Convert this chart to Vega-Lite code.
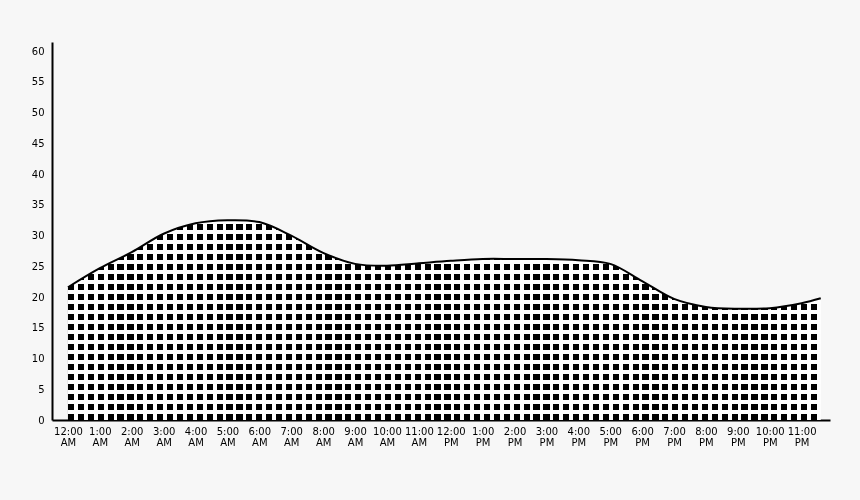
{
  "$schema": "https://vega.github.io/schema/vega-lite/v6.json",
  "width": 778,
  "height": 378,
  "autosize": "none",
  "padding": {"left": 52, "top": 42, "right": 30, "bottom": 80},
  "background": "#f7f7f7",
  "data": {
    "values": [
      {"hour": 0, "value": 21.6},
      {"hour": 1, "value": 24.7},
      {"hour": 2, "value": 27.3},
      {"hour": 3, "value": 30.3},
      {"hour": 4, "value": 32.0},
      {"hour": 5, "value": 32.5},
      {"hour": 6, "value": 32.2},
      {"hour": 7, "value": 30.0},
      {"hour": 8, "value": 27.2},
      {"hour": 9, "value": 25.4},
      {"hour": 10, "value": 25.1},
      {"hour": 11, "value": 25.5},
      {"hour": 12, "value": 25.9},
      {"hour": 13, "value": 26.2},
      {"hour": 14, "value": 26.2},
      {"hour": 15, "value": 26.2},
      {"hour": 16, "value": 26.0},
      {"hour": 17, "value": 25.4},
      {"hour": 18, "value": 22.6},
      {"hour": 19, "value": 19.7},
      {"hour": 20, "value": 18.4},
      {"hour": 21, "value": 18.1},
      {"hour": 22, "value": 18.2},
      {"hour": 23, "value": 19.0},
      {"hour": 23.6, "value": 19.8}
    ]
  },
  "encoding": {
    "x": {
      "field": "hour",
      "type": "quantitative",
      "title": null,
      "scale": {"domain": [-0.5, 23.89], "nice": false, "zero": false},
      "axis": {
        "values": [0, 1, 2, 3, 4, 5, 6, 7, 8, 9, 10, 11, 12, 13, 14, 15, 16, 17, 18, 19, 20, 21, 22, 23],
        "labelExpr": "[(datum.value % 12 == 0 ? 12 : datum.value % 12) + ':00', datum.value < 12 ? 'AM' : 'PM']",
        "labelLineHeight": 11,
        "labelPadding": 6,
        "labelFlush": false,
        "labelOverlap": false
      }
    },
    "y": {
      "field": "value",
      "type": "quantitative",
      "title": null,
      "scale": {"domain": [0, 61.5], "nice": false},
      "axis": {
        "values": [0, 5, 10, 15, 20, 25, 30, 35, 40, 45, 50, 55, 60],
        "labelPadding": 8,
        "labelFlush": false
      }
    }
  },
  "layer": [
    {
      "mark": {
        "type": "area",
        "interpolate": "catmull-rom",
        "color": {
          "gradient": "linear",
          "x1": 0, "y1": 0, "x2": 1, "y2": 0,
          "stops": [
            {"offset": 0, "color": "#000"}, {"offset": 0.0082, "color": "#000"}, {"offset": 0.0082, "color": "#fff"}, {"offset": 0.0132, "color": "#fff"},
            {"offset": 0.0132, "color": "#000"}, {"offset": 0.0214, "color": "#000"}, {"offset": 0.0214, "color": "#fff"}, {"offset": 0.0263, "color": "#fff"},
            {"offset": 0.0263, "color": "#000"}, {"offset": 0.0345, "color": "#000"}, {"offset": 0.0345, "color": "#fff"}, {"offset": 0.0395, "color": "#fff"},
            {"offset": 0.0395, "color": "#000"}, {"offset": 0.0477, "color": "#000"}, {"offset": 0.0477, "color": "#fff"}, {"offset": 0.0526, "color": "#fff"},
            {"offset": 0.0526, "color": "#000"}, {"offset": 0.0608, "color": "#000"}, {"offset": 0.0608, "color": "#fff"}, {"offset": 0.0658, "color": "#fff"},
            {"offset": 0.0658, "color": "#000"}, {"offset": 0.0740, "color": "#000"}, {"offset": 0.0740, "color": "#fff"}, {"offset": 0.0789, "color": "#fff"},
            {"offset": 0.0789, "color": "#000"}, {"offset": 0.0871, "color": "#000"}, {"offset": 0.0871, "color": "#fff"}, {"offset": 0.0921, "color": "#fff"},
            {"offset": 0.0921, "color": "#000"}, {"offset": 0.1003, "color": "#000"}, {"offset": 0.1003, "color": "#fff"}, {"offset": 0.1053, "color": "#fff"},
            {"offset": 0.1053, "color": "#000"}, {"offset": 0.1135, "color": "#000"}, {"offset": 0.1135, "color": "#fff"}, {"offset": 0.1184, "color": "#fff"},
            {"offset": 0.1184, "color": "#000"}, {"offset": 0.1266, "color": "#000"}, {"offset": 0.1266, "color": "#fff"}, {"offset": 0.1316, "color": "#fff"},
            {"offset": 0.1316, "color": "#000"}, {"offset": 0.1398, "color": "#000"}, {"offset": 0.1398, "color": "#fff"}, {"offset": 0.1447, "color": "#fff"},
            {"offset": 0.1447, "color": "#000"}, {"offset": 0.1529, "color": "#000"}, {"offset": 0.1529, "color": "#fff"}, {"offset": 0.1579, "color": "#fff"},
            {"offset": 0.1579, "color": "#000"}, {"offset": 0.1661, "color": "#000"}, {"offset": 0.1661, "color": "#fff"}, {"offset": 0.1711, "color": "#fff"},
            {"offset": 0.1711, "color": "#000"}, {"offset": 0.1793, "color": "#000"}, {"offset": 0.1793, "color": "#fff"}, {"offset": 0.1842, "color": "#fff"},
            {"offset": 0.1842, "color": "#000"}, {"offset": 0.1924, "color": "#000"}, {"offset": 0.1924, "color": "#fff"}, {"offset": 0.1974, "color": "#fff"},
            {"offset": 0.1974, "color": "#000"}, {"offset": 0.2056, "color": "#000"}, {"offset": 0.2056, "color": "#fff"}, {"offset": 0.2105, "color": "#fff"},
            {"offset": 0.2105, "color": "#000"}, {"offset": 0.2187, "color": "#000"}, {"offset": 0.2187, "color": "#fff"}, {"offset": 0.2237, "color": "#fff"},
            {"offset": 0.2237, "color": "#000"}, {"offset": 0.2319, "color": "#000"}, {"offset": 0.2319, "color": "#fff"}, {"offset": 0.2368, "color": "#fff"},
            {"offset": 0.2368, "color": "#000"}, {"offset": 0.2450, "color": "#000"}, {"offset": 0.2450, "color": "#fff"}, {"offset": 0.2500, "color": "#fff"},
            {"offset": 0.2500, "color": "#000"}, {"offset": 0.2582, "color": "#000"}, {"offset": 0.2582, "color": "#fff"}, {"offset": 0.2632, "color": "#fff"},
            {"offset": 0.2632, "color": "#000"}, {"offset": 0.2714, "color": "#000"}, {"offset": 0.2714, "color": "#fff"}, {"offset": 0.2763, "color": "#fff"},
            {"offset": 0.2763, "color": "#000"}, {"offset": 0.2845, "color": "#000"}, {"offset": 0.2845, "color": "#fff"}, {"offset": 0.2895, "color": "#fff"},
            {"offset": 0.2895, "color": "#000"}, {"offset": 0.2977, "color": "#000"}, {"offset": 0.2977, "color": "#fff"}, {"offset": 0.3026, "color": "#fff"},
            {"offset": 0.3026, "color": "#000"}, {"offset": 0.3108, "color": "#000"}, {"offset": 0.3108, "color": "#fff"}, {"offset": 0.3158, "color": "#fff"},
            {"offset": 0.3158, "color": "#000"}, {"offset": 0.3240, "color": "#000"}, {"offset": 0.3240, "color": "#fff"}, {"offset": 0.3289, "color": "#fff"},
            {"offset": 0.3289, "color": "#000"}, {"offset": 0.3371, "color": "#000"}, {"offset": 0.3371, "color": "#fff"}, {"offset": 0.3421, "color": "#fff"},
            {"offset": 0.3421, "color": "#000"}, {"offset": 0.3503, "color": "#000"}, {"offset": 0.3503, "color": "#fff"}, {"offset": 0.3553, "color": "#fff"},
            {"offset": 0.3553, "color": "#000"}, {"offset": 0.3635, "color": "#000"}, {"offset": 0.3635, "color": "#fff"}, {"offset": 0.3684, "color": "#fff"},
            {"offset": 0.3684, "color": "#000"}, {"offset": 0.3766, "color": "#000"}, {"offset": 0.3766, "color": "#fff"}, {"offset": 0.3816, "color": "#fff"},
            {"offset": 0.3816, "color": "#000"}, {"offset": 0.3898, "color": "#000"}, {"offset": 0.3898, "color": "#fff"}, {"offset": 0.3947, "color": "#fff"},
            {"offset": 0.3947, "color": "#000"}, {"offset": 0.4029, "color": "#000"}, {"offset": 0.4029, "color": "#fff"}, {"offset": 0.4079, "color": "#fff"},
            {"offset": 0.4079, "color": "#000"}, {"offset": 0.4161, "color": "#000"}, {"offset": 0.4161, "color": "#fff"}, {"offset": 0.4211, "color": "#fff"},
            {"offset": 0.4211, "color": "#000"}, {"offset": 0.4293, "color": "#000"}, {"offset": 0.4293, "color": "#fff"}, {"offset": 0.4342, "color": "#fff"},
            {"offset": 0.4342, "color": "#000"}, {"offset": 0.4424, "color": "#000"}, {"offset": 0.4424, "color": "#fff"}, {"offset": 0.4474, "color": "#fff"},
            {"offset": 0.4474, "color": "#000"}, {"offset": 0.4556, "color": "#000"}, {"offset": 0.4556, "color": "#fff"}, {"offset": 0.4605, "color": "#fff"},
            {"offset": 0.4605, "color": "#000"}, {"offset": 0.4687, "color": "#000"}, {"offset": 0.4687, "color": "#fff"}, {"offset": 0.4737, "color": "#fff"},
            {"offset": 0.4737, "color": "#000"}, {"offset": 0.4819, "color": "#000"}, {"offset": 0.4819, "color": "#fff"}, {"offset": 0.4868, "color": "#fff"},
            {"offset": 0.4868, "color": "#000"}, {"offset": 0.4950, "color": "#000"}, {"offset": 0.4950, "color": "#fff"}, {"offset": 0.5000, "color": "#fff"},
            {"offset": 0.5000, "color": "#000"}, {"offset": 0.5082, "color": "#000"}, {"offset": 0.5082, "color": "#fff"}, {"offset": 0.5132, "color": "#fff"},
            {"offset": 0.5132, "color": "#000"}, {"offset": 0.5214, "color": "#000"}, {"offset": 0.5214, "color": "#fff"}, {"offset": 0.5263, "color": "#fff"},
            {"offset": 0.5263, "color": "#000"}, {"offset": 0.5345, "color": "#000"}, {"offset": 0.5345, "color": "#fff"}, {"offset": 0.5395, "color": "#fff"},
            {"offset": 0.5395, "color": "#000"}, {"offset": 0.5477, "color": "#000"}, {"offset": 0.5477, "color": "#fff"}, {"offset": 0.5526, "color": "#fff"},
            {"offset": 0.5526, "color": "#000"}, {"offset": 0.5608, "color": "#000"}, {"offset": 0.5608, "color": "#fff"}, {"offset": 0.5658, "color": "#fff"},
            {"offset": 0.5658, "color": "#000"}, {"offset": 0.5740, "color": "#000"}, {"offset": 0.5740, "color": "#fff"}, {"offset": 0.5789, "color": "#fff"},
            {"offset": 0.5789, "color": "#000"}, {"offset": 0.5871, "color": "#000"}, {"offset": 0.5871, "color": "#fff"}, {"offset": 0.5921, "color": "#fff"},
            {"offset": 0.5921, "color": "#000"}, {"offset": 0.6003, "color": "#000"}, {"offset": 0.6003, "color": "#fff"}, {"offset": 0.6053, "color": "#fff"},
            {"offset": 0.6053, "color": "#000"}, {"offset": 0.6135, "color": "#000"}, {"offset": 0.6135, "color": "#fff"}, {"offset": 0.6184, "color": "#fff"},
            {"offset": 0.6184, "color": "#000"}, {"offset": 0.6266, "color": "#000"}, {"offset": 0.6266, "color": "#fff"}, {"offset": 0.6316, "color": "#fff"},
            {"offset": 0.6316, "color": "#000"}, {"offset": 0.6398, "color": "#000"}, {"offset": 0.6398, "color": "#fff"}, {"offset": 0.6447, "color": "#fff"},
            {"offset": 0.6447, "color": "#000"}, {"offset": 0.6529, "color": "#000"}, {"offset": 0.6529, "color": "#fff"}, {"offset": 0.6579, "color": "#fff"},
            {"offset": 0.6579, "color": "#000"}, {"offset": 0.6661, "color": "#000"}, {"offset": 0.6661, "color": "#fff"}, {"offset": 0.6711, "color": "#fff"},
            {"offset": 0.6711, "color": "#000"}, {"offset": 0.6793, "color": "#000"}, {"offset": 0.6793, "color": "#fff"}, {"offset": 0.6842, "color": "#fff"},
            {"offset": 0.6842, "color": "#000"}, {"offset": 0.6924, "color": "#000"}, {"offset": 0.6924, "color": "#fff"}, {"offset": 0.6974, "color": "#fff"},
            {"offset": 0.6974, "color": "#000"}, {"offset": 0.7056, "color": "#000"}, {"offset": 0.7056, "color": "#fff"}, {"offset": 0.7105, "color": "#fff"},
            {"offset": 0.7105, "color": "#000"}, {"offset": 0.7187, "color": "#000"}, {"offset": 0.7187, "color": "#fff"}, {"offset": 0.7237, "color": "#fff"},
            {"offset": 0.7237, "color": "#000"}, {"offset": 0.7319, "color": "#000"}, {"offset": 0.7319, "color": "#fff"}, {"offset": 0.7368, "color": "#fff"},
            {"offset": 0.7368, "color": "#000"}, {"offset": 0.7450, "color": "#000"}, {"offset": 0.7450, "color": "#fff"}, {"offset": 0.7500, "color": "#fff"},
            {"offset": 0.7500, "color": "#000"}, {"offset": 0.7582, "color": "#000"}, {"offset": 0.7582, "color": "#fff"}, {"offset": 0.7632, "color": "#fff"},
            {"offset": 0.7632, "color": "#000"}, {"offset": 0.7714, "color": "#000"}, {"offset": 0.7714, "color": "#fff"}, {"offset": 0.7763, "color": "#fff"},
            {"offset": 0.7763, "color": "#000"}, {"offset": 0.7845, "color": "#000"}, {"offset": 0.7845, "color": "#fff"}, {"offset": 0.7895, "color": "#fff"},
            {"offset": 0.7895, "color": "#000"}, {"offset": 0.7977, "color": "#000"}, {"offset": 0.7977, "color": "#fff"}, {"offset": 0.8026, "color": "#fff"},
            {"offset": 0.8026, "color": "#000"}, {"offset": 0.8108, "color": "#000"}, {"offset": 0.8108, "color": "#fff"}, {"offset": 0.8158, "color": "#fff"},
            {"offset": 0.8158, "color": "#000"}, {"offset": 0.8240, "color": "#000"}, {"offset": 0.8240, "color": "#fff"}, {"offset": 0.8289, "color": "#fff"},
            {"offset": 0.8289, "color": "#000"}, {"offset": 0.8371, "color": "#000"}, {"offset": 0.8371, "color": "#fff"}, {"offset": 0.8421, "color": "#fff"},
            {"offset": 0.8421, "color": "#000"}, {"offset": 0.8503, "color": "#000"}, {"offset": 0.8503, "color": "#fff"}, {"offset": 0.8553, "color": "#fff"},
            {"offset": 0.8553, "color": "#000"}, {"offset": 0.8635, "color": "#000"}, {"offset": 0.8635, "color": "#fff"}, {"offset": 0.8684, "color": "#fff"},
            {"offset": 0.8684, "color": "#000"}, {"offset": 0.8766, "color": "#000"}, {"offset": 0.8766, "color": "#fff"}, {"offset": 0.8816, "color": "#fff"},
            {"offset": 0.8816, "color": "#000"}, {"offset": 0.8898, "color": "#000"}, {"offset": 0.8898, "color": "#fff"}, {"offset": 0.8947, "color": "#fff"},
            {"offset": 0.8947, "color": "#000"}, {"offset": 0.9029, "color": "#000"}, {"offset": 0.9029, "color": "#fff"}, {"offset": 0.9079, "color": "#fff"},
            {"offset": 0.9079, "color": "#000"}, {"offset": 0.9161, "color": "#000"}, {"offset": 0.9161, "color": "#fff"}, {"offset": 0.9211, "color": "#fff"},
            {"offset": 0.9211, "color": "#000"}, {"offset": 0.9293, "color": "#000"}, {"offset": 0.9293, "color": "#fff"}, {"offset": 0.9342, "color": "#fff"},
            {"offset": 0.9342, "color": "#000"}, {"offset": 0.9424, "color": "#000"}, {"offset": 0.9424, "color": "#fff"}, {"offset": 0.9474, "color": "#fff"},
            {"offset": 0.9474, "color": "#000"}, {"offset": 0.9556, "color": "#000"}, {"offset": 0.9556, "color": "#fff"}, {"offset": 0.9605, "color": "#fff"},
            {"offset": 0.9605, "color": "#000"}, {"offset": 0.9687, "color": "#000"}, {"offset": 0.9687, "color": "#fff"}, {"offset": 0.9737, "color": "#fff"},
            {"offset": 0.9737, "color": "#000"}, {"offset": 0.9819, "color": "#000"}, {"offset": 0.9819, "color": "#fff"}, {"offset": 0.9868, "color": "#fff"},
            {"offset": 0.9868, "color": "#000"}, {"offset": 0.9950, "color": "#000"}, {"offset": 0.9950, "color": "#fff"}, {"offset": 1, "color": "#fff"}
          ]
        }
      }
    },
    {
      "mark": {
        "type": "area",
        "interpolate": "catmull-rom",
        "blend": "screen",
        "color": {
          "gradient": "linear",
          "x1": 0, "y1": 0, "x2": 0, "y2": 1,
          "stops": [
            {"offset": 0, "color": "#fff"}, {"offset": 0.019, "color": "#fff"}, {"offset": 0.019, "color": "#000"}, {"offset": 0.05, "color": "#000"},
            {"offset": 0.05, "color": "#fff"}, {"offset": 0.069, "color": "#fff"}, {"offset": 0.069, "color": "#000"}, {"offset": 0.10, "color": "#000"},
            {"offset": 0.10, "color": "#fff"}, {"offset": 0.119, "color": "#fff"}, {"offset": 0.119, "color": "#000"}, {"offset": 0.15, "color": "#000"},
            {"offset": 0.15, "color": "#fff"}, {"offset": 0.169, "color": "#fff"}, {"offset": 0.169, "color": "#000"}, {"offset": 0.20, "color": "#000"},
            {"offset": 0.20, "color": "#fff"}, {"offset": 0.219, "color": "#fff"}, {"offset": 0.219, "color": "#000"}, {"offset": 0.25, "color": "#000"},
            {"offset": 0.25, "color": "#fff"}, {"offset": 0.269, "color": "#fff"}, {"offset": 0.269, "color": "#000"}, {"offset": 0.30, "color": "#000"},
            {"offset": 0.30, "color": "#fff"}, {"offset": 0.319, "color": "#fff"}, {"offset": 0.319, "color": "#000"}, {"offset": 0.35, "color": "#000"},
            {"offset": 0.35, "color": "#fff"}, {"offset": 0.369, "color": "#fff"}, {"offset": 0.369, "color": "#000"}, {"offset": 0.40, "color": "#000"},
            {"offset": 0.40, "color": "#fff"}, {"offset": 0.419, "color": "#fff"}, {"offset": 0.419, "color": "#000"}, {"offset": 0.45, "color": "#000"},
            {"offset": 0.45, "color": "#fff"}, {"offset": 0.469, "color": "#fff"}, {"offset": 0.469, "color": "#000"}, {"offset": 0.50, "color": "#000"},
            {"offset": 0.50, "color": "#fff"}, {"offset": 0.519, "color": "#fff"}, {"offset": 0.519, "color": "#000"}, {"offset": 0.55, "color": "#000"},
            {"offset": 0.55, "color": "#fff"}, {"offset": 0.569, "color": "#fff"}, {"offset": 0.569, "color": "#000"}, {"offset": 0.60, "color": "#000"},
            {"offset": 0.60, "color": "#fff"}, {"offset": 0.619, "color": "#fff"}, {"offset": 0.619, "color": "#000"}, {"offset": 0.65, "color": "#000"},
            {"offset": 0.65, "color": "#fff"}, {"offset": 0.669, "color": "#fff"}, {"offset": 0.669, "color": "#000"}, {"offset": 0.70, "color": "#000"},
            {"offset": 0.70, "color": "#fff"}, {"offset": 0.719, "color": "#fff"}, {"offset": 0.719, "color": "#000"}, {"offset": 0.75, "color": "#000"},
            {"offset": 0.75, "color": "#fff"}, {"offset": 0.769, "color": "#fff"}, {"offset": 0.769, "color": "#000"}, {"offset": 0.80, "color": "#000"},
            {"offset": 0.80, "color": "#fff"}, {"offset": 0.819, "color": "#fff"}, {"offset": 0.819, "color": "#000"}, {"offset": 0.85, "color": "#000"},
            {"offset": 0.85, "color": "#fff"}, {"offset": 0.869, "color": "#fff"}, {"offset": 0.869, "color": "#000"}, {"offset": 0.90, "color": "#000"},
            {"offset": 0.90, "color": "#fff"}, {"offset": 0.919, "color": "#fff"}, {"offset": 0.919, "color": "#000"}, {"offset": 0.95, "color": "#000"},
            {"offset": 0.95, "color": "#fff"}, {"offset": 0.969, "color": "#fff"}, {"offset": 0.969, "color": "#000"}, {"offset": 1, "color": "#000"}
          ]
        }
      }
    },
    {
      "mark": {"type": "line", "interpolate": "catmull-rom", "color": "#000", "strokeWidth": 2}
    }
  ],
  "config": {
    "view": {"stroke": null},
    "font": "DejaVu Sans",
    "axis": {
      "grid": false,
      "ticks": false,
      "domainColor": "#000",
      "domainWidth": 2,
      "labelColor": "#000",
      "labelFont": "DejaVu Sans",
      "labelFontSize": 10
    }
  }
}
